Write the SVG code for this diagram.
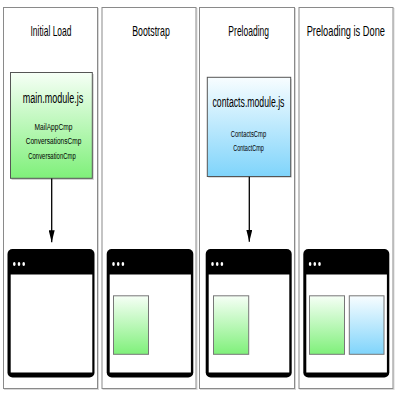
<svg xmlns="http://www.w3.org/2000/svg" width="400" height="400" viewBox="0 0 400 400">
<defs>
<linearGradient id="gGreen" x1="0" y1="0" x2="0" y2="1">
<stop offset="0" stop-color="#f6fff6"/>
<stop offset="1" stop-color="#7ff07a"/>
</linearGradient>
<linearGradient id="gBlue" x1="0" y1="0" x2="0" y2="1">
<stop offset="0" stop-color="#f8fdff"/>
<stop offset="1" stop-color="#7fd4fb"/>
</linearGradient>
<marker id="arr" viewBox="0 0 12 6" refX="12" refY="3" markerWidth="12" markerHeight="6" markerUnits="userSpaceOnUse" orient="auto">
<path d="M0,0 L12,3 L0,6 Z" fill="#000"/>
</marker>
</defs>
<style>
.panel{fill:#fff;stroke:#8a8a8a;stroke-width:1}
.pshadow{fill:none;stroke:#d8d8d8;stroke-width:1}
.title{font-family:"Liberation Sans",Arial,sans-serif;font-size:14px;fill:#000;text-anchor:middle}
.mod{font-family:"Liberation Sans",Arial,sans-serif;font-size:14.5px;fill:#000;text-anchor:middle}
.cmp{font-family:"Liberation Sans",Arial,sans-serif;font-size:9px;fill:#000;text-anchor:middle}
.box{stroke:#555;stroke-width:1}
.bshadow{fill:#000;opacity:0.18}
.win{fill:#000}
.screen{fill:#fff}
.dot{fill:#fff}
.mini{stroke:#777;stroke-width:1}
.conn{stroke:#000;stroke-width:1.3;fill:none}
</style>

<g id="panel-initial-load">
<rect class="pshadow" x="4.5" y="8.5" width="94" height="381"/>
<rect class="panel" x="3.5" y="7.5" width="94" height="381"/>
<text class="title" transform="translate(51,35.5) scale(0.606,1)">Initial Load</text>
</g>
<g id="panel-bootstrap">
<rect class="pshadow" x="103" y="8.5" width="94" height="381"/>
<rect class="panel" x="102" y="7.5" width="94" height="381"/>
<text class="title" transform="translate(151,35.5) scale(0.629,1)">Bootstrap</text>
</g>
<g id="panel-preloading">
<rect class="pshadow" x="200.5" y="8.5" width="95" height="381"/>
<rect class="panel" x="199.5" y="7.5" width="95" height="381"/>
<text class="title" transform="translate(248.7,35.5) scale(0.608,1)">Preloading</text>
</g>
<g id="panel-done">
<rect class="pshadow" x="300" y="8.5" width="94" height="381"/>
<rect class="panel" x="299" y="7.5" width="94" height="381"/>
<text class="title" transform="translate(345.8,35.5) scale(0.663,1)">Preloading is Done</text>
</g>

<g id="main-module">
<rect class="bshadow" x="11.5" y="74" width="82.3" height="106"/>
<rect class="box" x="10.5" y="72.5" width="81.8" height="105.8" fill="url(#gGreen)"/>
<text class="mod" transform="translate(53,103) scale(0.623,1)">main.module.js</text>
<text class="cmp" transform="translate(53.5,129.5) scale(0.738,1)">MailAppCmp</text>
<text class="cmp" transform="translate(53.5,144.3) scale(0.728,1)">ConversationsCmp</text>
<text class="cmp" transform="translate(52,159.3) scale(0.66,1)">ConversationCmp</text>
</g>

<g id="contacts-module">
<rect class="bshadow" x="208.3" y="78.8" width="83.4" height="99"/>
<rect class="box" x="207.3" y="77.3" width="83.4" height="99.2" fill="url(#gBlue)"/>
<text class="mod" transform="translate(248.5,106.5) scale(0.6,1)">contacts.module.js</text>
<text class="cmp" transform="translate(248.5,136.5) scale(0.648,1)">ContactsCmp</text>
<text class="cmp" transform="translate(248.5,151) scale(0.614,1)">ContactCmp</text>
</g>

<g id="browser-1">
<rect class="win" x="7.5" y="249" width="87" height="128.5" rx="5"/>
<rect class="screen" x="10.7" y="274.5" width="81.6" height="98"/>
<ellipse class="dot" cx="14.3" cy="264" rx="1.3" ry="2"/>
<ellipse class="dot" cx="19" cy="264" rx="1.3" ry="2"/>
<ellipse class="dot" cx="23.7" cy="264" rx="1.3" ry="2"/>
</g>
<g id="browser-2">
<rect class="win" x="106.7" y="249" width="86.6" height="128.5" rx="5"/>
<rect class="screen" x="109.7" y="274.5" width="81.2" height="98"/>
<ellipse class="dot" cx="113.5" cy="264" rx="1.3" ry="2"/>
<ellipse class="dot" cx="118.2" cy="264" rx="1.3" ry="2"/>
<ellipse class="dot" cx="122.9" cy="264" rx="1.3" ry="2"/>
<rect class="mini" x="113.5" y="295.8" width="35" height="58.5" fill="url(#gGreen)"/>
</g>
<g id="browser-3">
<rect class="win" x="205.7" y="249" width="86" height="128.5" rx="5"/>
<rect class="screen" x="208.7" y="274.5" width="80.6" height="98"/>
<ellipse class="dot" cx="212.5" cy="264" rx="1.3" ry="2"/>
<ellipse class="dot" cx="217.2" cy="264" rx="1.3" ry="2"/>
<ellipse class="dot" cx="221.9" cy="264" rx="1.3" ry="2"/>
<rect class="mini" x="213.5" y="295.8" width="35.2" height="58.5" fill="url(#gGreen)"/>
</g>
<g id="browser-4">
<rect class="win" x="303.3" y="249" width="86" height="128.5" rx="5"/>
<rect class="screen" x="306.3" y="274.5" width="80.6" height="98"/>
<ellipse class="dot" cx="310.1" cy="264" rx="1.3" ry="2"/>
<ellipse class="dot" cx="314.8" cy="264" rx="1.3" ry="2"/>
<ellipse class="dot" cx="319.5" cy="264" rx="1.3" ry="2"/>
<rect class="mini" x="309.5" y="295.8" width="35" height="58.5" fill="url(#gGreen)"/>
<rect class="mini" x="349.3" y="295.8" width="34.7" height="58.5" fill="url(#gBlue)"/>
</g>

<g id="connectors">
<line class="conn" x1="51.7" y1="178.5" x2="51.7" y2="242.3" marker-end="url(#arr)"/>
<line class="conn" x1="249.3" y1="176.8" x2="249.3" y2="241.7" marker-end="url(#arr)"/>
</g>
</svg>
